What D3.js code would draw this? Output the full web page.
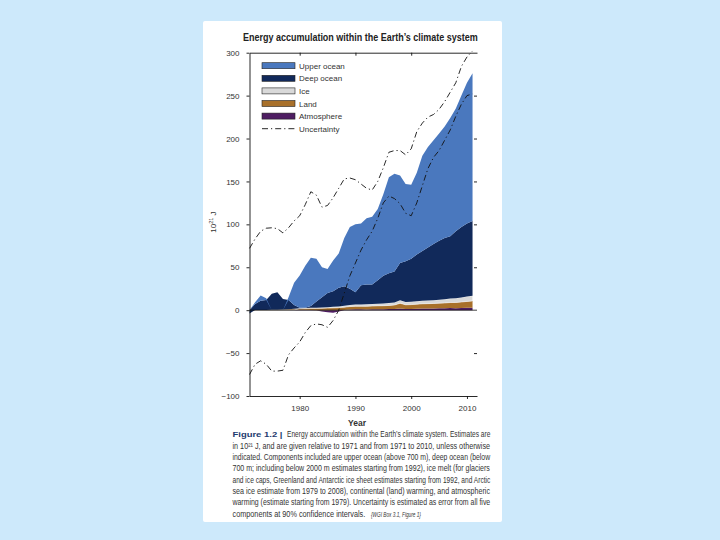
<!DOCTYPE html>
<html><head><meta charset="utf-8">
<script src="https://cdn.jsdelivr.net/npm/d3@7"></script>
<style>body{margin:0;background:#cde9fb;} svg{display:block}</style>
</head><body>
<svg id="c" width="720" height="540"></svg>
<script>
const years = [1971,1972,1973,1974,1975,1976,1977,1978,1979,1980,1981,1982,1983,1984,1985,1986,1987,1988,1989,1990,
  1991,1992,1993,1994,1995,1996,1997,1998,1999,2000,2001,2002,2003,2004,2005,2006,2007,2008,2009,2010,2011];
const upperOcean = [0,2,6,2,0,0,0,3,26,37.5,49,56,50,35,28,36,40,56,72,79,
  72,77,79,83,95,112,114,102,90,86,95,111,117,121,125,130,138,143,153,164,172];
const deepOcean = [-4,7,10.8,11.7,18.5,20.4,12.2,11,4.3,0.5,0.3,2.3,7.2,11.9,16.5,18.1,21.6,22.9,19,14.5,
  22.3,23.2,22.8,27.4,32.2,34.7,36,43.5,47.5,50.2,54.5,58,61.6,65.3,68.8,71.3,72.5,78,82.1,85,87.2];
const ice = [0,0,0,0,0,0,0,0,0,0.3,0.4,0.5,0.7,0.8,1,1.2,1.4,1.6,1.8,2,
  2.1,2.3,2.4,2.5,2.6,2.8,3,3.5,3.2,3.3,3.5,3.6,3.8,3.9,4,4.3,4.6,5,5.4,5.8,6];
const land = [0,0.1,0.2,0.3,0.5,0.6,0.8,1,1.2,1.5,1.7,1.9,2.1,2.3,2.5,2.7,3,3.2,3.4,3.5,
  3.6,3.7,3.8,3.9,4,4.2,4.5,6,4.8,5,5.2,5.4,5.6,5.8,6,6.2,6.5,6.7,7,7.5,8];
const atmosphere = [0,0,0,0,0,0,0,0,0.5,0.5,0.5,0.3,-0.5,-1.5,-2.5,-3,-1.5,0.3,0.8,1,
  1,0.8,1,1.2,1.2,1.3,1.5,2,1.5,1.5,1.8,2,2,2,2.2,2.2,2.4,2.3,2.5,2.7,2.8];
const uncUpper = [72,83,92,95.5,96,95,90,96,104,110,123,138,134,120,122,131,142,153,154,152,
  147,142,140,150,166,184,186,186,181,188,208,218,225,228,234,243,254,265,284,295,302];
const uncLower = [-75,-63,-59,-63,-71,-71,-70,-52,-44,-37,-26,-18,-16,-17,-20,-12,0,20,40,55,
  70,82,92,107,125,133,130,124,113,110,125,145,165,178,186,198,210,226,240,250,252];
const yTicks = [-100,-50,0,50,100,150,200,250,300];
const xTicks = [1980,1990,2000,2010];
const seriesNames = ['Upper ocean','Deep ocean','Ice','Land','Atmosphere'];
const captionLines = [
  "in 10\u00B2\u00B9 J, and are given relative to 1971 and from 1971 to 2010, unless otherwise",
  "indicated. Components included are upper ocean (above 700 m), deep ocean (below",
  "700 m; including below 2000 m estimates starting from 1992), ice melt (for glaciers",
  "and ice caps, Greenland and Antarctic ice sheet estimates starting from 1992, and Arctic",
  "sea ice estimate from 1979 to 2008), continental (land) warming, and atmospheric",
  "warming (estimate starting from 1979). Uncertainty is estimated as error from all five"
];

const FONT = "'Liberation Sans Narrow','Liberation Sans',Arial,sans-serif";
const CAPFONT = "'Liberation Sans',Arial,sans-serif";
const svg = d3.select('#c');
svg.append('rect').attr('width',720).attr('height',540).attr('fill','#cde9fb');
svg.append('rect').attr('x',203).attr('y',21).attr('width',299).attr('height',501).attr('rx',2).attr('fill','#fff');

const x = d3.scaleLinear().domain([1971, 2011.8]).range([249.5, 477]);
const y = d3.scaleLinear().domain([-100, 300]).range([396, 52.7]);

const keys = ['atmosphere','land','ice','deep','upper'];
const colors = {upper:'#4a78be', deep:'#11295a', ice:'#d9d9d9', land:'#a8702a', atmosphere:'#4e1d62'};
const rows = years.map((yr,i)=>({year:yr, atmosphere:atmosphere[i], land:land[i], ice:ice[i], deep:deepOcean[i], upper:upperOcean[i]}));
const stacked = d3.stack().keys(keys).offset(d3.stackOffsetDiverging)(rows);
const area = d3.area().x(d=>x(d.data.year)).y0(d=>y(d[0])).y1(d=>y(d[1]));
svg.append('g').selectAll('path').data(stacked).join('path')
  .attr('d', area).attr('fill', d=>colors[d.key])
  .attr('stroke', d=>d.key==='ice'?'#f4f4f4':'none').attr('stroke-width',0.6);

// zero line
svg.append('line').attr('x1',x(1971)).attr('x2',477).attr('y1',y(0)).attr('y2',y(0)).attr('stroke','#111').attr('stroke-width',0.8);

// uncertainty
const line = d3.line().x((d,i)=>x(years[i])).y(d=>y(d));
[uncUpper, uncLower].forEach(arr=>{
  svg.append('path').attr('d', line(arr)).attr('fill','none').attr('stroke','#111')
    .attr('stroke-width',0.9).attr('stroke-dasharray','6,3,1.2,3');
});

// axes
const axStyle = g=>{ g.selectAll('path,line').attr('stroke','#111').attr('stroke-width',0.9);
  g.selectAll('text').attr('font-family',FONT).attr('font-size',8).attr('fill','#333'); };
svg.append('g').attr('transform',`translate(${x(1971)},0)`)
  .call(d3.axisLeft(y).tickValues(yTicks).tickSize(3).tickSizeOuter(0).tickPadding(7))
  .call(axStyle);
svg.append('g').attr('transform',`translate(0,${y(-100)})`)
  .call(d3.axisBottom(x).tickValues(xTicks).tickSize(3).tickSizeOuter(0).tickPadding(6).tickFormat(d3.format('d')))
  .call(axStyle);
svg.append('g').attr('transform',`translate(0,${y(300)})`)
  .call(d3.axisTop(x).tickValues(xTicks.slice(0,3)).tickSize(-3).tickSizeOuter(0).tickFormat(''))
  .call(axStyle);
const rg = svg.append('g').attr('transform',`translate(477,0)`)
  .call(d3.axisRight(y).tickValues([-50,50,100,150,200,250]).tickSize(-3).tickSizeOuter(0).tickFormat(''))
  .call(axStyle);
rg.select('.domain').remove();

// fitted text: scale horizontally to a target width
function fitText(xx, yy, w, t, opts) {
  opts = opts || {};
  const el = svg.append('text').attr('x',0).attr('y',0)
    .attr('font-family',opts.family||CAPFONT).attr('font-size',opts.size||8.5)
    .attr('fill',opts.fill||'#333').text(t);
  if (opts.weight) el.attr('font-weight',opts.weight);
  if (opts.style) el.attr('font-style',opts.style);
  const len = el.node().getComputedTextLength() || w;
  el.attr('transform',`translate(${xx},${yy}) scale(${w/len},1)`);
  return el;
}

// title
fitText(243, 41, 235, "Energy accumulation within the Earth\u2019s climate system", {size:10, weight:'bold', fill:'#222'});

// y label
const yl = svg.append('text').attr('transform','translate(216,222) rotate(-90)').attr('text-anchor','middle')
  .attr('font-family',FONT).attr('font-size',8).attr('fill','#333');
yl.append('tspan').text('10');
yl.append('tspan').attr('dy',-3).attr('font-size',5.5).text('21');
yl.append('tspan').attr('dy',3).text(' J');

// x label
svg.append('text').attr('x',357).attr('y',426).attr('text-anchor','middle').attr('font-family',FONT)
  .attr('font-size',8.5).attr('font-weight','bold').attr('fill','#333').text('Year');

// legend
const lg = svg.append('g');
const legKeys = ['upper','deep','ice','land','atmosphere'];
legKeys.forEach((k,i)=>{
  const yy = 65.7 + i*12.6;
  lg.append('rect').attr('x',262).attr('y',yy-3).attr('width',33).attr('height',6)
    .attr('fill',colors[k]).attr('stroke','#222').attr('stroke-width',0.6);
  lg.append('text').attr('x',299).attr('y',yy+3).attr('font-family',FONT).attr('font-size',8).attr('fill','#333').text(seriesNames[i]);
});
const uy = 65.7 + 5*12.6;
lg.append('line').attr('x1',262).attr('x2',295).attr('y1',uy).attr('y2',uy).attr('stroke','#111')
  .attr('stroke-width',0.9).attr('stroke-dasharray','6,3,1.2,3');
lg.append('text').attr('x',299).attr('y',uy+3).attr('font-family',FONT).attr('font-size',8).attr('fill','#333').text('Uncertainty');

// caption
const capX = 232.5, capW = 258, capY0 = 437.3, capDy = 11.35;
fitText(capX, capY0, 50, 'Figure 1.2 |', {weight:'bold', fill:'#1d3a6e', size:8});
fitText(287, capY0, capX+capW-287, "Energy accumulation within the Earth\u2019s climate system. Estimates are");
captionLines.forEach((t,i)=> fitText(capX, capY0+(i+1)*capDy, capW, t));
fitText(capX, capY0+7*capDy, 133, 'components at 90% confidence intervals.');
fitText(371, capY0+7*capDy, 50, '{WGI Box 3.1, Figure 1}', {style:'italic', size:8});
</script>
</body></html>
